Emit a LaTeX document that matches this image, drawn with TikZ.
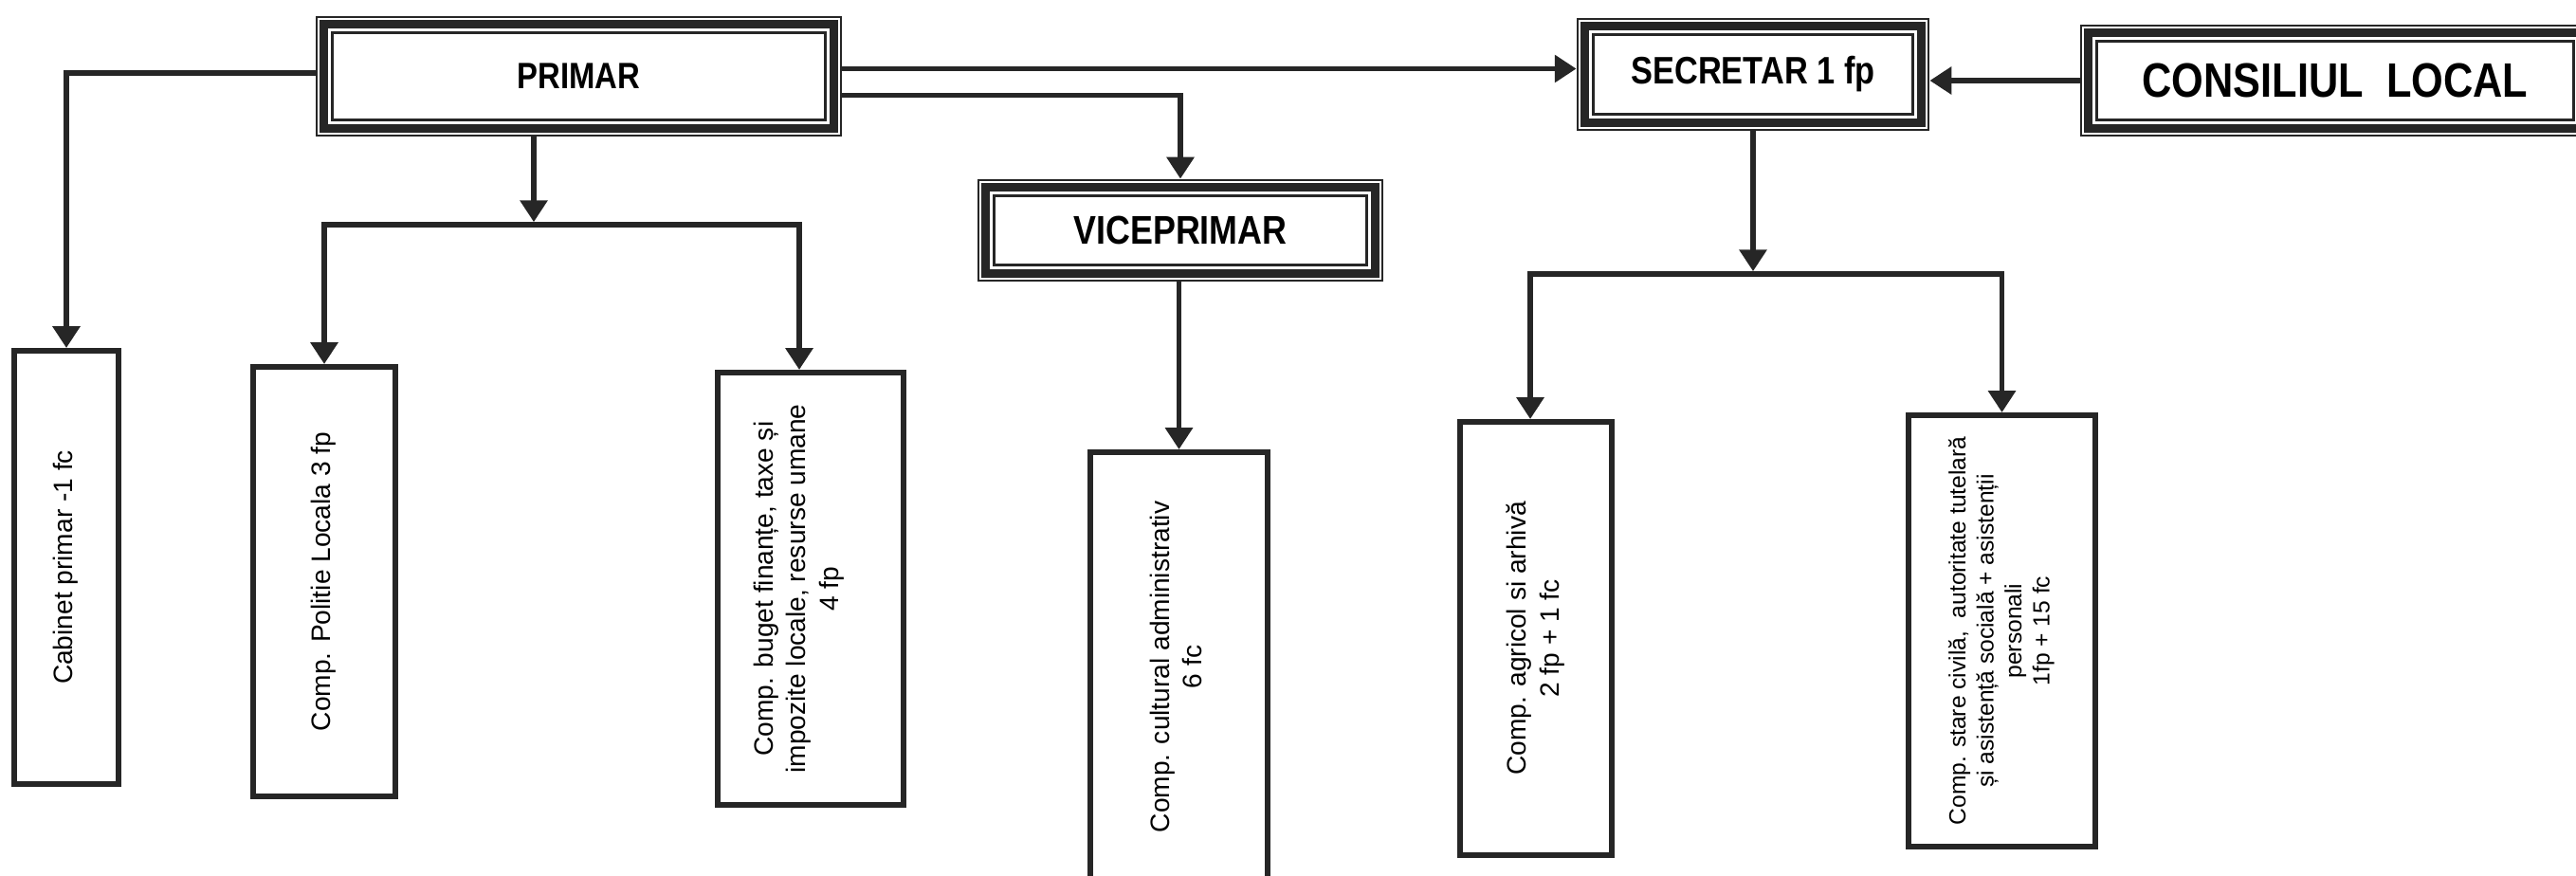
\documentclass[tikz,border=0pt]{standalone}
\usepackage{fontspec}
\usepackage{graphicx}
\setmainfont{Liberation Sans}
\newfontfamily\headfont[FakeStretch=0.85]{Liberation Sans}
\usetikzlibrary{arrows.meta}

\newcommand{\vtext}[1]{\rotatebox{90}{\begin{tabular}{@{}c@{}}#1\end{tabular}}}

\begin{document}
\begin{tikzpicture}[
    titlebox/.style={draw=black!85, line width=0.8pt, inner sep=0pt, align=center},
    compbox/.style={draw=black!85, line width=1.7pt, inner sep=0pt,
        font=\fontsize{8}{9.8}\selectfont},
    link/.style={draw=black!85, line width=1.6pt},
    arrowlink/.style={link, -{Triangle[width=8pt,length=6.5pt]}}
]
  \useasboundingbox (0,0) rectangle (27.17,-9.24);

  % conducere
  \node[titlebox, minimum width=5.53cm, minimum height=1.25cm,
        font=\headfont\bfseries\fontsize{11}{13}\selectfont] (primar) at (6.105,-0.805) {PRIMAR};
  \node[titlebox, minimum width=3.70cm, minimum height=1.17cm,
        font=\headfont\bfseries\fontsize{11.5}{13}\selectfont] (secretar) at (18.49,-0.785) {SECRETAR 1 fp};
  \node[titlebox, minimum width=5.36cm, minimum height=1.16cm,
        font=\headfont\bfseries\fontsize{14.5}{16}\selectfont] (consiliu) at (24.63,-0.85) {CONSILIUL~ LOCAL};
  \node[titlebox, minimum width=4.26cm, minimum height=1.06cm,
        font=\headfont\bfseries\fontsize{12}{14}\selectfont] (viceprimar) at (12.45,-2.43) {VICEPRIMAR};

  \foreach \n in {primar,secretar,consiliu,viceprimar} {
    \draw[black!85, line width=2.6pt] ([shift={(0.09,-0.09)}]\n.north west) rectangle ([shift={(-0.09,0.09)}]\n.south east);
    \draw[black!85, line width=1pt] ([shift={(0.18,-0.18)}]\n.north west) rectangle ([shift={(-0.18,0.18)}]\n.south east);
  }

  % compartimente
  \node[compbox, minimum width=1.10cm, minimum height=4.57cm] (cabinet) at (0.70,-5.985)
    {\vtext{Cabinet primar -1 fc}};
  \node[compbox, minimum width=1.50cm, minimum height=4.53cm] (politie) at (3.42,-6.135)
    {\vtext{Comp. Politie Locala 3 fp}};
  \node[compbox, minimum width=1.96cm, minimum height=4.56cm] (buget) at (8.55,-6.21)
    {\vtext{Comp. buget finanțe, taxe și\\impozite locale, resurse umane\\4 fp}\hspace*{0.24cm}};
  \node[compbox, minimum width=1.87cm, minimum height=4.53cm] (cultural) at (12.435,-7.035)
    {\vtext{Comp. cultural administrativ\\6 fc}};
  \node[compbox, minimum width=1.60cm, minimum height=4.57cm] (agricol) at (16.20,-6.735)
    {\vtext{Comp. agricol si arhivă\\2 fp + 1 fc}};
  \node[compbox, minimum width=1.97cm, minimum height=4.55cm,
        font=\fontsize{7}{8.4}\selectfont] (stare) at (21.115,-6.655)
    {\vtext{Comp. stare civilă,~ autoritate tutelară\\și asistență socială + asistenții\\personali\\1fp + 15 fc}};

  % legaturi
  \coordinate (pbus) at (5.63,-2.37);
  \coordinate (sbus) at (18.49,-2.89);

  \draw[arrowlink] ([yshift=0.035cm]primar.west) -| (cabinet.north);
  \draw[arrowlink] ([yshift=0.08cm]primar.east) -- ([yshift=0.08cm]primar.east -| secretar.west);
  \draw[arrowlink] ([yshift=-0.2cm]primar.east) -| (viceprimar.north);
  \draw[arrowlink] (consiliu.west) -- (consiliu.west -| secretar.east);

  \draw[arrowlink, shorten >=0.8pt] (primar.south -| pbus) -- (pbus);
  \draw[arrowlink] (pbus) -| (politie.north);
  \draw[arrowlink] (pbus) -| ([xshift=-0.12cm]buget.north);

  \draw[arrowlink] (viceprimar.south -| cultural.north) -- (cultural.north);

  \draw[arrowlink, shorten >=0.8pt] (secretar.south) -- (sbus);
  \draw[arrowlink] (sbus) -| ([xshift=-0.06cm]agricol.north);
  \draw[arrowlink] (sbus) -| (stare.north);
\end{tikzpicture}
\end{document}
